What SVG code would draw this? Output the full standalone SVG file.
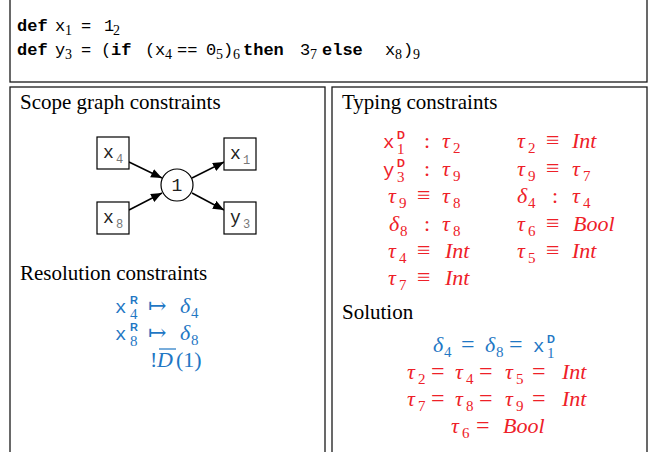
<svg xmlns="http://www.w3.org/2000/svg" width="654" height="452" viewBox="0 0 654 452">
<style>
.frame{fill:none;stroke:#1a1a1a;stroke-width:1.3}
.code{font-family:"Liberation Mono",monospace;font-size:17px;fill:#000}
.kw{font-weight:bold}
.csub{font-family:"Liberation Serif",serif;font-size:14px}
.title{font-family:"Liberation Serif",serif;font-size:21px;fill:#000}
.box{fill:#fff;stroke:#000;stroke-width:1.2}
.nt{font-family:"Liberation Mono",monospace;font-size:18px;fill:#222}
.ns{font-family:"Liberation Mono",monospace;font-size:12px;fill:#777}
.edge{stroke:#000;stroke-width:1.5;fill:none;marker-end:url(#ah)}
.m{font-family:"Liberation Serif","DejaVu Serif",serif;font-size:22px;font-style:italic}
.up{font-style:normal}
.op{font-style:normal;font-size:24px}
.sb{font-size:15px;font-style:normal}
.tt{font-family:"Liberation Mono",monospace;font-style:normal;font-size:19px}
.sp{font-family:"Liberation Sans",sans-serif;font-weight:bold;font-style:normal;font-size:11px}
.blue{fill:#1f77c4}
.red{fill:#ee2028}
</style>
<defs>
<marker id="ah" markerUnits="userSpaceOnUse" markerWidth="12" markerHeight="10" refX="11" refY="4.5" orient="auto">
<path d="M0,0 L11,4.5 L0,9 z" fill="#000"/>
</marker>
</defs>

<g id="code-panel">
<rect class="frame" x="10" y="-5" width="637" height="87"/>
<text class="code" y="31"><tspan class="kw" x="17">def</tspan><tspan x="55">x</tspan><tspan class="csub" x="65" dy="4">1</tspan><tspan x="81" dy="-4">=</tspan><tspan x="104">1</tspan><tspan class="csub" x="113" dy="4">2</tspan></text>
<text class="code" y="55"><tspan class="kw" x="17">def</tspan><tspan x="55">y</tspan><tspan class="csub" x="65" dy="4">3</tspan><tspan x="81" dy="-4">=</tspan><tspan x="101">(</tspan><tspan class="kw" x="111">if</tspan><tspan x="145">(</tspan><tspan x="155">x</tspan><tspan class="csub" x="165" dy="4">4</tspan><tspan x="177" dy="-4">==</tspan><tspan x="206">0</tspan><tspan class="csub" x="216" dy="4">5</tspan><tspan x="223" dy="-4">)</tspan><tspan class="csub" x="233" dy="4">6</tspan><tspan class="kw" x="243" dy="-4">then</tspan><tspan x="300">3</tspan><tspan class="csub" x="310" dy="4">7</tspan><tspan class="kw" x="322" dy="-4">else</tspan><tspan x="385">x</tspan><tspan class="csub" x="395" dy="4">8</tspan><tspan x="403" dy="-4">)</tspan><tspan class="csub" x="413" dy="4">9</tspan></text>
</g>

<g id="scope-panel">
<rect class="frame" x="10" y="87" width="315" height="375"/>
<text class="title" x="20" y="109">Scope graph constraints</text>
<text class="title" x="20" y="280">Resolution constraints</text>
</g>

<g id="typing-panel">
<rect class="frame" x="332" y="87" width="315" height="375"/>
<text class="title" x="342" y="109">Typing constraints</text>
<text class="title" x="342" y="319">Solution</text>
</g>

<g id="connectors">
<line class="edge" x1="129" y1="162" x2="162" y2="178"/>
<line class="edge" x1="129" y1="210" x2="162" y2="193"/>
<line class="edge" x1="192" y1="178" x2="224" y2="162"/>
<line class="edge" x1="192" y1="193" x2="224" y2="210"/>
</g>

<g id="node-x4">
<rect class="box" x="97" y="137" width="32" height="32"/>
<text class="nt" x="103" y="158">x</text><text class="ns" x="116" y="163">4</text>
</g>
<g id="node-x8">
<rect class="box" x="97" y="202" width="32" height="32"/>
<text class="nt" x="103" y="223">x</text><text class="ns" x="116" y="228">8</text>
</g>
<g id="node-scope1">
<circle cx="177" cy="185" r="16" fill="#fff" stroke="#000" stroke-width="1.2"/>
<text class="nt" x="177" y="191" text-anchor="middle">1</text>
</g>
<g id="node-x1">
<rect class="box" x="224" y="138" width="32" height="32"/>
<text class="nt" x="230" y="159">x</text><text class="ns" x="243" y="164">1</text>
</g>
<g id="node-y3">
<rect class="box" x="224" y="202" width="32" height="32"/>
<text class="nt" x="230" y="223">y</text><text class="ns" x="243" y="228">3</text>
</g>

<g id="resolution" class="blue">
<text class="m" y="313"><tspan class="tt" x="115">x</tspan><tspan class="sb" x="130" dy="6">4</tspan><tspan class="up" x="148" dy="-6">↦</tspan><tspan x="180">δ</tspan><tspan class="sb" x="191" dy="5">4</tspan></text>
<text class="sp" x="130" y="304">R</text>
<text class="m" y="340"><tspan class="tt" x="115">x</tspan><tspan class="sb" x="130" dy="6">8</tspan><tspan class="up" x="148" dy="-6">↦</tspan><tspan x="180">δ</tspan><tspan class="sb" x="191" dy="5">8</tspan></text>
<text class="sp" x="130" y="331">R</text>
<text class="m" y="367"><tspan class="up" x="150">!</tspan><tspan x="157">D</tspan><tspan class="up" x="176">(1)</tspan></text>
<line x1="159" y1="349" x2="176" y2="349" stroke="#1f77c4" stroke-width="1.2"/>
</g>

<g id="typing" class="red">
<text class="m" y="148"><tspan class="tt" x="383">x</tspan><tspan class="sb" x="397" dy="6">1</tspan><tspan class="up" x="424" dy="-6">:</tspan><tspan x="442">τ</tspan><tspan class="sb" x="453" dy="5">2</tspan></text>
<text class="sp" x="397" y="139">D</text>
<text class="m" y="176"><tspan class="tt" x="383">y</tspan><tspan class="sb" x="397" dy="6">3</tspan><tspan class="up" x="424" dy="-6">:</tspan><tspan x="442">τ</tspan><tspan class="sb" x="453" dy="5">9</tspan></text>
<text class="sp" x="397" y="167">D</text>
<text class="m" y="203"><tspan x="388">τ</tspan><tspan class="sb" x="399" dy="5">9</tspan><tspan class="op" x="417" dy="-5">≡</tspan><tspan x="442">τ</tspan><tspan class="sb" x="453" dy="5">8</tspan></text>
<text class="m" y="231"><tspan x="389">δ</tspan><tspan class="sb" x="400" dy="5">8</tspan><tspan class="up" x="424" dy="-5">:</tspan><tspan x="442">τ</tspan><tspan class="sb" x="453" dy="5">8</tspan></text>
<text class="m" y="258"><tspan x="388">τ</tspan><tspan class="sb" x="399" dy="5">4</tspan><tspan class="op" x="417" dy="-5">≡</tspan><tspan x="445">Int</tspan></text>
<text class="m" y="285"><tspan x="388">τ</tspan><tspan class="sb" x="399" dy="5">7</tspan><tspan class="op" x="417" dy="-5">≡</tspan><tspan x="445">Int</tspan></text>

<text class="m" y="148"><tspan x="517">τ</tspan><tspan class="sb" x="528" dy="5">2</tspan><tspan class="op" x="546" dy="-5">≡</tspan><tspan x="572">Int</tspan></text>
<text class="m" y="176"><tspan x="517">τ</tspan><tspan class="sb" x="528" dy="5">9</tspan><tspan class="op" x="546" dy="-5">≡</tspan><tspan x="572">τ</tspan><tspan class="sb" x="583" dy="5">7</tspan></text>
<text class="m" y="203"><tspan x="517">δ</tspan><tspan class="sb" x="528" dy="5">4</tspan><tspan class="up" x="552" dy="-5">:</tspan><tspan x="572">τ</tspan><tspan class="sb" x="583" dy="5">4</tspan></text>
<text class="m" y="231"><tspan x="517">τ</tspan><tspan class="sb" x="528" dy="5">6</tspan><tspan class="op" x="546" dy="-5">≡</tspan><tspan x="573">Bool</tspan></text>
<text class="m" y="258"><tspan x="517">τ</tspan><tspan class="sb" x="528" dy="5">5</tspan><tspan class="op" x="546" dy="-5">≡</tspan><tspan x="572">Int</tspan></text>
</g>

<g id="solution">
<text class="m blue" y="352"><tspan x="433">δ</tspan><tspan class="sb" x="444" dy="5">4</tspan><tspan class="op" x="461" dy="-5">=</tspan><tspan x="485">δ</tspan><tspan class="sb" x="496" dy="5">8</tspan><tspan class="op" x="509" dy="-5">=</tspan><tspan class="tt" x="533">x</tspan><tspan class="sb" x="547" dy="6">1</tspan></text>
<text class="sp blue" x="547" y="343">D</text>
<text class="m red" y="379"><tspan x="407">τ</tspan><tspan class="sb" x="418" dy="5">2</tspan><tspan class="op" x="431" dy="-5">=</tspan><tspan x="455">τ</tspan><tspan class="sb" x="466" dy="5">4</tspan><tspan class="op" x="479" dy="-5">=</tspan><tspan x="505">τ</tspan><tspan class="sb" x="516" dy="5">5</tspan><tspan class="op" x="532" dy="-5">=</tspan><tspan x="562">Int</tspan></text>
<text class="m red" y="406"><tspan x="407">τ</tspan><tspan class="sb" x="418" dy="5">7</tspan><tspan class="op" x="431" dy="-5">=</tspan><tspan x="455">τ</tspan><tspan class="sb" x="466" dy="5">8</tspan><tspan class="op" x="479" dy="-5">=</tspan><tspan x="505">τ</tspan><tspan class="sb" x="516" dy="5">9</tspan><tspan class="op" x="532" dy="-5">=</tspan><tspan x="562">Int</tspan></text>
<text class="m red" y="433"><tspan x="451">τ</tspan><tspan class="sb" x="462" dy="5">6</tspan><tspan class="op" x="476" dy="-5">=</tspan><tspan x="503">Bool</tspan></text>
</g>
</svg>
